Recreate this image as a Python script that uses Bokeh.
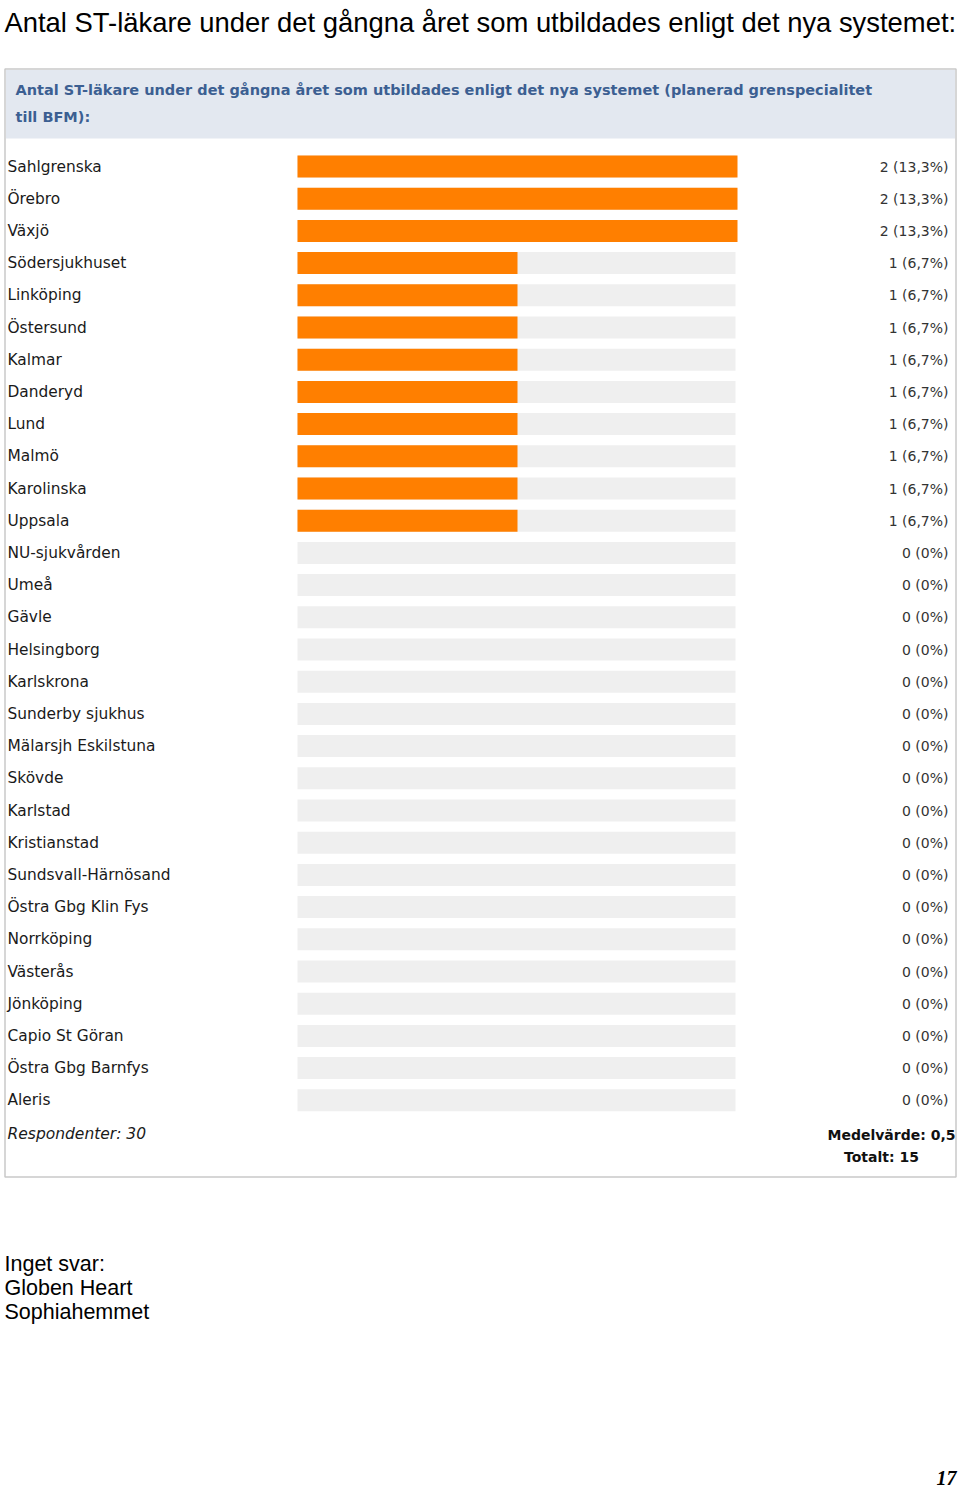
from bokeh.plotting import figure
from bokeh.models import Range1d, ColumnDataSource
from bokeh.core.properties import value
from bokeh.embed import file_html
from bokeh.resources import INLINE

# ---------------- data ----------------
page_title = "Antal ST-läkare under det gångna året som utbildades enligt det nya systemet:"
header_lines = ["Antal ST-läkare under det gångna året som utbildades enligt det nya systemet (planerad grenspecialitet",
                "till BFM):"]
categories = ["Sahlgrenska", "Örebro", "Växjö", "Södersjukhuset", "Linköping", "Östersund",
              "Kalmar", "Danderyd", "Lund", "Malmö", "Karolinska", "Uppsala",
              "NU-sjukvården", "Umeå", "Gävle", "Helsingborg", "Karlskrona", "Sunderby sjukhus",
              "Mälarsjh Eskilstuna", "Skövde", "Karlstad", "Kristianstad", "Sundsvall-Härnösand",
              "Östra Gbg Klin Fys", "Norrköping", "Västerås", "Jönköping", "Capio St Göran",
              "Östra Gbg Barnfys", "Aleris"]
counts = [2, 2, 2, 1, 1, 1, 1, 1, 1, 1, 1, 1,
          0, 0, 0, 0, 0, 0, 0, 0, 0, 0, 0, 0, 0, 0, 0, 0, 0, 0]
respondents = 30
no_answer = ["Inget svar:", "Globen Heart", "Sophiahemmet"]
page_number = "17"

# ---------------- derived ----------------
total = sum(counts)
mean = total / respondents
vmax = max(counts)

def pct(c):
    if c == 0:
        return "0%"
    return f"{100 * c / total:.1f}".replace(".", ",") + "%"

value_labels = [f"{c} ({pct(c)})" for c in counts]

# layout (pixel-like data space)
W, H = 960, 1488
ROW0, ROWSTEP = 166, 32.2
BAR_X0, BAR_W, BAR_H = 297, 440, 22

ys = [ROW0 + i * ROWSTEP for i in range(len(categories))]
src = ColumnDataSource(dict(
    cat=categories, cnt=counts, y=ys,
    left=[BAR_X0] * len(counts),
    right=[BAR_X0 + c / vmax * BAR_W for c in counts],
    bgright=[BAR_X0 + BAR_W - 2] * len(counts),
    vlab=value_labels,
))

p = figure(width=W, height=H, x_range=Range1d(0, W), y_range=Range1d(H, 0),
           x_axis_type=None, y_axis_type=None, toolbar_location=None,
           output_backend="svg", min_border=0, outline_line_color=None,
           background_fill_color="white", border_fill_color="white")
p.grid.visible = False

# page title
p.text(x=[4], y=[22], text=[page_title], text_font=value("Liberation Sans"),
       text_font_size="27.4px", text_color="#000000", text_baseline="alphabetic")

# panel box and header
p.quad(left=[4.5], right=[955.5], top=[68.5], bottom=[1176.5],
       fill_color="white", line_color="#c9c9c9", line_width=1.5)
p.quad(left=[5.5], right=[954.5], top=[69.5], bottom=[138],
       fill_color="#e3e8f0", line_color=None)
p.text(x=[15, 15], y=[89, 116], text=header_lines, text_font=value("DejaVu Sans"),
       text_font_style="bold", text_font_size="14.5px", text_color="#3c5f92",
       text_baseline="middle")

# bars
p.hbar(y="y", left="left", right="bgright", height=BAR_H, source=src,
       fill_color="#efefef", line_color=None)
p.hbar(y="y", left="left", right="right", height=BAR_H, source=src,
       fill_color="#ff7f00", line_color=None)

# labels
p.text(x=7, y="y", text="cat", source=src, text_font=value("DejaVu Sans"),
       text_font_size="15.4px", text_color="#1a1a1a", text_baseline="middle")
p.text(x=948, y="y", text="vlab", source=src, text_font=value("DejaVu Sans"),
       text_font_size="14px", text_color="#333333", text_baseline="middle",
       text_align="right")

# footer of panel
p.text(x=[7], y=[1133], text=[f"Respondenter: {respondents}"], text_font=value("DejaVu Sans"),
       text_font_style="italic", text_font_size="15.5px", text_color="#1a1a1a",
       text_baseline="middle")
p.text(x=[955], y=[1134], text=[f"Medelvärde: {mean:.1f}".replace(".", ",")],
       text_font=value("DejaVu Sans"), text_font_style="bold", text_font_size="14px",
       text_color="#111111", text_baseline="middle", text_align="right")
p.text(x=[881], y=[1156], text=[f"Totalt: {total}"], text_font=value("DejaVu Sans"),
       text_font_style="bold", text_font_size="14px", text_color="#111111",
       text_baseline="middle", text_align="center")

# no-answer list
p.text(x=[4, 4, 4], y=[1263, 1287, 1311], text=no_answer, text_font=value("Liberation Sans"),
       text_font_size="21.5px", text_color="#000000", text_baseline="middle")

# page number
p.text(x=[956], y=[1477], text=[page_number], text_font=value("Liberation Serif"),
       text_font_style="bold italic", text_font_size="20px", text_color="#000000",
       text_baseline="alphabetic", text_align="right")

open("out.html", "w").write(file_html(p, INLINE))
